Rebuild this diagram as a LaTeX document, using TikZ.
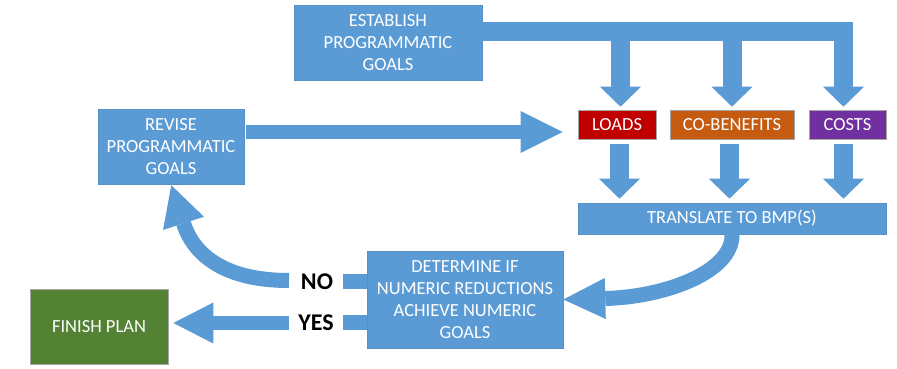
\documentclass[tikz,border=0pt]{standalone}
\usepackage{fontspec}
\setmainfont{Carlito}
\usetikzlibrary{arrows.meta,calc}
\definecolor{bl}{HTML}{5B9BD5}
\definecolor{blb}{HTML}{5A8FC6}
\definecolor{rd}{HTML}{C00000}
\definecolor{og}{HTML}{C55A11}
\definecolor{pu}{HTML}{7030A0}
\definecolor{gr}{HTML}{548235}
\tikzset{
  box/.style={draw=blb, line width=0.6pt, fill=bl, text=white, align=center, inner sep=0pt,
    font=\fontsize{18.5}{22}\selectfont},
  colbox/.style={draw=gray!70, line width=0.6pt, fill=#1, text=white, align=center, inner sep=0pt,
    font=\fontsize{18.5}{22}\selectfont},
  fatA/.style={draw=bl, line width=19pt, -{Triangle[width=41pt,length=20pt,line width=0pt]}},
  fatB/.style={draw=bl, line width=14.5pt, -{Triangle[width=42pt,length=42pt,line width=0pt]}},
  stub/.style={draw=bl, line width=15pt},
  bar/.style={draw=bl, line width=19pt},
  lbl/.style={font=\fontsize{24}{26}\selectfont\bfseries, text=black, inner sep=0pt},
}
\begin{document}
\begin{tikzpicture}[x=1pt,y=-1pt]
\useasboundingbox (0,0) rectangle (897,368);
\fill[white] (0,0) rectangle (897,368);

\node[box, minimum width=188pt, minimum height=75pt] (establish) at (388,42.5) {ESTABLISH\\PROGRAMMATIC\\GOALS};
\node[box, minimum width=146pt, minimum height=75pt] (revise) at (171,146.5) {REVISE\\PROGRAMMATIC\\GOALS};
\node[colbox=rd, minimum width=78pt, minimum height=29pt] (loads) at (617,124.5) {LOADS};
\node[colbox=og, minimum width=124pt, minimum height=29pt] (cob) at (732,124.5) {CO-BENEFITS};
\node[colbox=pu, minimum width=77pt, minimum height=29pt] (costs) at (847.5,124.5) {COSTS};
\node[box, minimum width=308pt, minimum height=31pt] (translate) at (732,218.5) {TRANSLATE TO BMP(S)};
\node[box, minimum width=196pt, minimum height=97pt] (determine) at (465,299.5) {DETERMINE IF\\NUMERIC REDUCTIONS\\ACHIEVE NUMERIC\\GOALS};
\node[colbox=gr, minimum width=138pt, minimum height=75pt] (finish) at (99,326.5) {FINISH PLAN};
\node[lbl] (no) at (317,282) {NO};
\node[lbl] (yes) at (316,323) {YES};

% top bar and drops
\coordinate (barR) at (853,31.5);
\coordinate (b1) at (620.5,31.5);
\coordinate (b2) at (732,31.5);
\coordinate (b3) at (843.5,31.5);
\draw[bar] (establish.east |- barR) -- (barR);
\draw[fatA, shorten >=3pt] (b1) -- (b1 |- loads.north);
\draw[fatA, shorten >=3pt] (b2) -- (b2 |- cob.north);
\draw[fatA, shorten >=3pt] (b3) -- (b3 |- costs.north);

% drops to translate
\coordinate (c1) at (619.5,139);
\coordinate (c2) at (729.5,139);
\coordinate (c3) at (843.5,139);
\draw[fatA, shorten <=5pt, shorten >=4pt] (c1) -- (c1 |- translate.north);
\draw[fatA, shorten <=5pt, shorten >=4pt] (c2) -- (c2 |- translate.north);
\draw[fatA, shorten <=5pt, shorten >=4pt] (c3) -- (c3 |- translate.north);

% revise -> loads
\coordinate (r1) at (246,132);
\draw[fatB, line width=14pt, shorten >=15pt] (r1) -- (loads.west |- r1);

% translate -> determine
\draw[fatB, line width=15pt, -{Triangle[width=41pt,length=42pt,line width=0pt]}]
  (translate.south) .. controls (733,272) and (665,297) .. (determine.east);

% NO branch
\coordinate (n1) at (343,281.5);
\coordinate (n2) at (289,280.5);
\draw[stub] (determine.west |- n1) -- (n1);
\draw[fatB, line width=15pt, -{Triangle[width=43pt,length=40pt,line width=0pt]}, shorten >=1pt]
  (n2) .. controls (226,280.5) and (194,256) .. (revise.south);

% YES branch
\coordinate (y1) at (343,322.5);
\coordinate (y2) at (289,323);
\draw[stub] (determine.west |- y1) -- (y1);
\draw[fatB, line width=14pt, -{Triangle[width=41pt,length=40pt,line width=0pt]}, shorten >=5pt]
  (y2) -- (finish.east |- y2);
\end{tikzpicture}
\end{document}
